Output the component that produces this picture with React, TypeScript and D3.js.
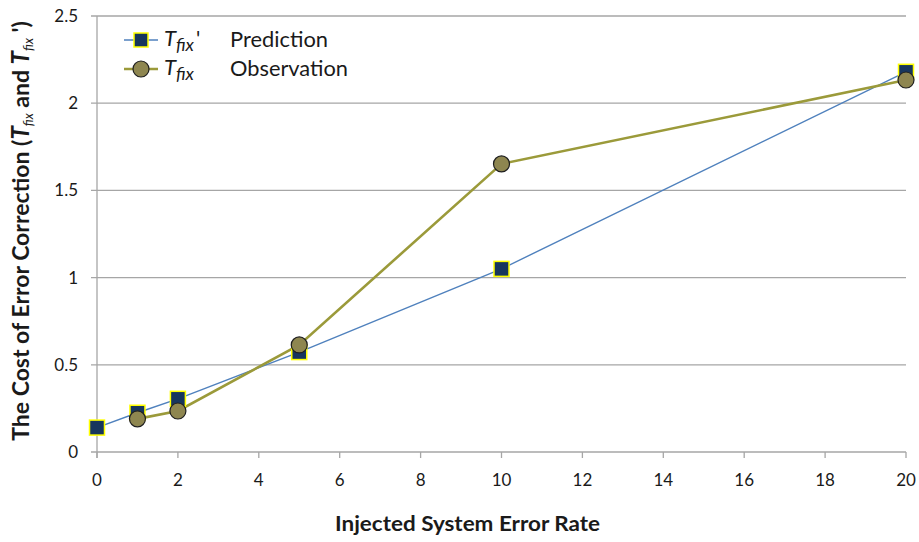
import React from "react";
import * as d3 from "d3";

const errorRates = [0, 1, 2, 5, 10, 20];
const predictionValues = [0.14, 0.225, 0.305, 0.573, 1.05, 2.18];
const obsRates = [1, 2, 5, 10, 20];
const observationValues = [0.19, 0.235, 0.614, 1.652, 2.133];
const xTicks = [0, 2, 4, 6, 8, 10, 12, 14, 16, 18, 20];
const yTicks = [0, 0.5, 1, 1.5, 2, 2.5];
const yTickLabels = ["0", "0.5", "1", "1.5", "2", "2.5"];

const W = 919, H = 542;
const left = 97, right = 906, top = 16, bottom = 452;
const FONT = "Lato, 'Open Sans', sans-serif";

export default function App() {
  const x = d3.scaleLinear().domain([0, 20]).range([left, right]);
  const y = d3.scaleLinear().domain([0, 2.5]).range([bottom, top]);
  const pred = errorRates.map((r, i) => [r, predictionValues[i]] as [number, number]);
  const obs = obsRates.map((r, i) => [r, observationValues[i]] as [number, number]);
  const line = d3.line<[number, number]>().x(d => x(d[0])).y(d => y(d[1]));
  const predColor = "#4f81bd";
  const obsColor = "#9b9a3a";
  const sq = 15;
  return (
    <svg width={W} height={H} style={{ position: "absolute", left: 0, top: 0, background: "#fff" }}>
      {yTicks.map(t => (
        <line key={"g" + t} x1={left - 6} x2={right} y1={y(t)} y2={y(t)} stroke="#a6a6a6" strokeWidth={1.3} />
      ))}
      <line x1={left} x2={left} y1={top} y2={bottom + 6} stroke="#a6a6a6" strokeWidth={1.3} />
      {xTicks.map(t => (
        <line key={"xt" + t} x1={x(t)} x2={x(t)} y1={bottom} y2={bottom + 6} stroke="#a6a6a6" strokeWidth={1.3} />
      ))}
      {yTicks.map((t, i) => (
        <text key={"yl" + t} x={left - 19} y={y(t)} dy="0.35em" textAnchor="end" fontFamily={FONT} fontSize={17} fill="#1a1a1a">{yTickLabels[i]}</text>
      ))}
      {xTicks.map(t => (
        <text key={"xl" + t} x={x(t)} y={bottom + 34} textAnchor="middle" fontFamily={FONT} fontSize={17} fill="#1a1a1a">{t}</text>
      ))}
      <path d={line(pred) || ""} fill="none" stroke={predColor} strokeWidth={1.4} />
      <path d={line(obs) || ""} fill="none" stroke={obsColor} strokeWidth={2.6} />
      {pred.map((d, i) => (
        <rect key={"p" + i} x={x(d[0]) - sq / 2} y={y(d[1]) - sq / 2} width={sq} height={sq} fill="#17365d" stroke="#ffff00" strokeWidth={1.5} />
      ))}
      {obs.map((d, i) => (
        <circle key={"o" + i} cx={x(d[0])} cy={y(d[1])} r={8} fill="#8e8650" stroke="#1f1f1f" strokeWidth={1.2} />
      ))}
      {/* legend */}
      <g>
        <line x1={124} x2={158} y1={40} y2={40} stroke={predColor} strokeWidth={1.4} />
        <rect x={141 - 7} y={40 - 7} width={14} height={14} fill="#17365d" stroke="#ffff00" strokeWidth={1.5} />
        <text x={164} y={46} fontFamily={FONT} fontSize={21} fill="#1a1a1a">
          <tspan fontStyle="italic" fontSize={22}>T</tspan>
          <tspan fontStyle="italic" fontSize={18} dy={5}>fix</tspan>
          <tspan dy={-5} fontSize={21} dx={2}>'</tspan>
        </text>
        <text x={230} y={47} fontFamily={FONT} fontSize={21} fill="#1a1a1a" textLength={98} lengthAdjust="spacingAndGlyphs">Prediction</text>
        <line x1={124} x2={158} y1={69} y2={69} stroke={obsColor} strokeWidth={2.6} />
        <circle cx={141} cy={69} r={8} fill="#8e8650" stroke="#1f1f1f" strokeWidth={1.2} />
        <text x={164} y={75} fontFamily={FONT} fontSize={21} fill="#1a1a1a">
          <tspan fontStyle="italic" fontSize={22}>T</tspan>
          <tspan fontStyle="italic" fontSize={18} dy={5}>fix</tspan>
        </text>
        <text x={230} y={76} fontFamily={FONT} fontSize={21} fill="#1a1a1a" textLength={118} lengthAdjust="spacingAndGlyphs">Observation</text>
      </g>
      <text x={335} y={531} fontFamily={FONT} fontSize={20} fontWeight="bold" fill="#1a1a1a" textLength={265} lengthAdjust="spacingAndGlyphs">Injected System Error Rate</text>
      <text transform={`translate(29, 231) rotate(-90)`} textAnchor="middle" fontFamily={FONT} fontSize={23} fontWeight="bold" fill="#1a1a1a">
        <tspan>The Cost of Error Correction (</tspan>
        <tspan fontStyle="italic" fontSize={24}>T</tspan>
        <tspan fontStyle="italic" fontSize={13} fontWeight="normal" dy={4}>fix</tspan>
        <tspan dy={-4}> and </tspan>
        <tspan fontStyle="italic" fontSize={24}>T</tspan>
        <tspan fontStyle="italic" fontSize={13} fontWeight="normal" dy={4}>fix</tspan>
        <tspan dy={-4}> ')</tspan>
      </text>
    </svg>
  );
}
